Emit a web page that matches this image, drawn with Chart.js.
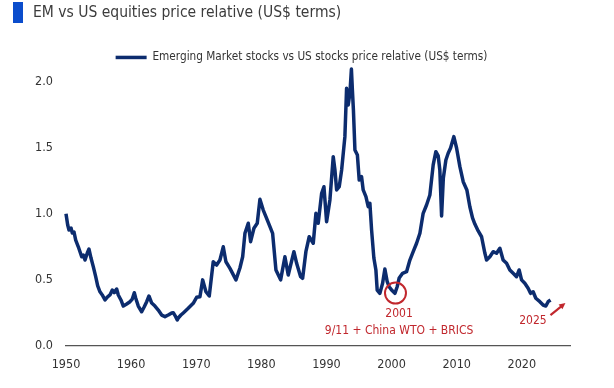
<!DOCTYPE html>
<html>
<head>
<meta charset="utf-8">
<script src="https://cdn.jsdelivr.net/npm/chart.js@4.4.1/dist/chart.umd.min.js"></script>
<style>
  html, body { margin: 0; padding: 0; background: #ffffff; }
  #wrap { width: 614px; height: 388px; position: relative; }
</style>
</head>
<body>
<div id="wrap"><canvas id="c" width="614" height="388"></canvas></div>
<script>
// ---- data ----
const years = [
  1950.00, 1950.26, 1950.46, 1950.77, 1950.97, 1951.23, 1951.49, 1951.89, 1952.41, 1952.66,
  1952.92, 1953.27, 1953.53, 1953.84, 1954.19, 1954.56, 1954.87, 1955.22, 1955.57, 1955.99,
  1956.34, 1956.75, 1957.11, 1957.41, 1957.78, 1958.03, 1958.44, 1958.80, 1959.32, 1959.83,
  1960.18, 1960.49, 1960.70, 1961.10, 1961.62, 1962.02, 1962.39, 1962.74, 1963.16, 1963.66,
  1964.17, 1964.69, 1965.20, 1965.70, 1966.23, 1966.47, 1966.84, 1967.09, 1967.24, 1967.65,
  1968.01, 1968.77, 1969.54, 1970.06, 1970.57, 1970.99, 1971.49, 1972.00, 1972.61, 1973.13,
  1973.64, 1974.15, 1974.56, 1975.18, 1976.10, 1976.71, 1977.13, 1977.48, 1977.99, 1978.35,
  1978.86, 1979.37, 1979.78, 1980.29, 1980.70, 1981.32, 1981.73, 1982.24, 1982.96, 1983.62,
  1984.13, 1985.00, 1985.42, 1986.03, 1986.34, 1986.84, 1987.35, 1987.97, 1988.38, 1988.73,
  1989.26, 1989.61, 1990.02, 1990.53, 1991.04, 1991.30, 1991.56, 1991.96, 1992.33, 1992.83,
  1993.09, 1993.34, 1993.60, 1993.83, 1993.98, 1994.14, 1994.37, 1994.75, 1995.03, 1995.39,
  1995.64, 1996.06, 1996.41, 1996.67, 1996.93, 1997.28, 1997.59, 1997.79, 1998.20, 1998.62,
  1998.97, 1999.33, 1999.63, 2000.00, 2000.51, 2000.86, 2001.17, 2001.69, 2002.30, 2002.81,
  2003.32, 2003.84, 2004.35, 2004.85, 2005.37, 2005.88, 2006.39, 2006.80, 2007.16, 2007.41,
  2007.68, 2007.95, 2008.34, 2008.69, 2009.06, 2009.56, 2009.98, 2010.49, 2011.00, 2011.56,
  2012.02, 2012.43, 2012.79, 2013.30, 2013.82, 2014.33, 2014.59, 2015.09, 2015.60, 2016.12,
  2016.63, 2017.13, 2017.66, 2018.16, 2018.67, 2019.19, 2019.59, 2019.96, 2020.46, 2020.97,
  2021.34, 2021.74, 2022.15, 2022.77, 2023.27, 2023.69, 2024.04, 2024.41
];
const emVsUs = [
  1.00, 0.915, 0.877, 0.892, 0.854, 0.862, 0.800, 0.750, 0.675, 0.688,
  0.650, 0.703, 0.733, 0.665, 0.600, 0.524, 0.454, 0.410, 0.386, 0.348,
  0.370, 0.386, 0.423, 0.403, 0.431, 0.386, 0.348, 0.302, 0.318, 0.335,
  0.355, 0.403, 0.363, 0.302, 0.259, 0.297, 0.335, 0.378, 0.325, 0.302,
  0.272, 0.234, 0.222, 0.234, 0.250, 0.252, 0.222, 0.197, 0.212, 0.234,
  0.250, 0.285, 0.323, 0.368, 0.373, 0.500, 0.410, 0.378, 0.637, 0.612,
  0.650, 0.750, 0.637, 0.587, 0.500, 0.590, 0.675, 0.852, 0.928, 0.789,
  0.890, 0.928, 1.109, 1.028, 0.978, 0.902, 0.852, 0.575, 0.500, 0.675,
  0.537, 0.713, 0.625, 0.524, 0.512, 0.713, 0.826, 0.777, 1.003, 0.928,
  1.155, 1.204, 0.940, 1.104, 1.431, 1.331, 1.180, 1.204, 1.331, 1.583,
  1.948, 1.822, 1.911, 2.094, 1.936, 1.784, 1.482, 1.444, 1.255, 1.280,
  1.180, 1.129, 1.053, 1.079, 0.877, 0.665, 0.575, 0.423, 0.398, 0.474,
  0.582, 0.486, 0.448, 0.423, 0.398, 0.448, 0.514, 0.550, 0.562, 0.650,
  0.713, 0.777, 0.852, 1.003, 1.066, 1.142, 1.369, 1.469, 1.437, 1.331,
  0.983, 1.270, 1.406, 1.457, 1.497, 1.583, 1.497, 1.356, 1.242, 1.180,
  1.053, 0.968, 0.922, 0.870, 0.826, 0.701, 0.650, 0.675, 0.713, 0.701,
  0.739, 0.650, 0.625, 0.575, 0.550, 0.524, 0.575, 0.500, 0.474, 0.436,
  0.398, 0.410, 0.361, 0.335, 0.310, 0.302, 0.335, 0.348
];
const xTickYears = [1950, 1960, 1970, 1980, 1990, 2000, 2010, 2020];
const yTickValues = [0.0, 0.5, 1.0, 1.5, 2.0];
const seriesLabel = 'Emerging Market stocks vs US stocks price relative (US$ terms)';
const chartTitle = 'EM vs US equities price relative (US$ terms)';
// annotation anchors in data units (year, value)
const noteCircle = { x: 2000.6, y: 0.40 };
const noteLines = [
  { text: '2001', x: 2001.15, y: 0.246 },
  { text: '9/11 + China WTO + BRICS', x: 2001.15, y: 0.117 },
  { text: '2025', x: 2021.7, y: 0.193 }
];
const noteArrow = { x0: 2024.4, y0: 0.234, x1: 2026.7, y1: 0.325 };

const FONT = "'DejaVu Sans Condensed', 'DejaVu Sans', sans-serif";
const NAVY = '#0C2C6E';
const RED = '#C1272D';

const points = years.map((yr, i) => ({ x: yr, y: emVsUs[i] }));

const decorPlugin = {
  id: 'decor',
  afterDraw(chart) {
    const ctx = chart.ctx;
    const tb = chart.titleBlock;
    ctx.save();
    // blue title marker
    ctx.fillStyle = '#0B4DCC';
    ctx.fillRect(tb.left - 20, 2, 10, 21);
    const xs = chart.scales.x, ys = chart.scales.y;
    // circle
    ctx.strokeStyle = RED;
    ctx.lineWidth = 2;
    ctx.beginPath();
    ctx.arc(xs.getPixelForValue(noteCircle.x), ys.getPixelForValue(noteCircle.y), 10.5, 0, Math.PI * 2);
    ctx.stroke();
    // texts
    ctx.fillStyle = RED;
    ctx.font = '12px ' + FONT;
    ctx.textAlign = 'center';
    ctx.textBaseline = 'middle';
    noteLines.forEach(n => {
      ctx.fillText(n.text, xs.getPixelForValue(n.x), ys.getPixelForValue(n.y));
    });
    // arrow
    const ax0 = xs.getPixelForValue(noteArrow.x0), ay0 = ys.getPixelForValue(noteArrow.y0);
    const ax1 = xs.getPixelForValue(noteArrow.x1), ay1 = ys.getPixelForValue(noteArrow.y1);
    const ang = Math.atan2(ay1 - ay0, ax1 - ax0);
    const hl = 7;
    ctx.lineWidth = 2.2;
    ctx.beginPath();
    ctx.moveTo(ax0, ay0);
    ctx.lineTo(ax1 - Math.cos(ang) * hl * 0.7, ay1 - Math.sin(ang) * hl * 0.7);
    ctx.stroke();
    ctx.beginPath();
    ctx.moveTo(ax1, ay1);
    ctx.lineTo(ax1 - hl * Math.cos(ang - 0.45), ay1 - hl * Math.sin(ang - 0.45));
    ctx.lineTo(ax1 - hl * Math.cos(ang + 0.45), ay1 - hl * Math.sin(ang + 0.45));
    ctx.closePath();
    ctx.fill();
    ctx.restore();
  }
};

new Chart(document.getElementById('c'), {
  type: 'line',
  data: {
    datasets: [{
      label: seriesLabel,
      data: points,
      borderColor: NAVY,
      backgroundColor: NAVY,
      borderWidth: 3.5,
      pointRadius: 0,
      tension: 0,
      borderJoinStyle: 'round',
      clip: 6
    }]
  },
  options: {
    responsive: false,
    animation: false,
    events: [],
    layout: { padding: { left: 33, right: 44, top: 0, bottom: 0 } },
    plugins: {
      title: {
        display: true,
        text: chartTitle,
        align: 'start',
        color: '#3c3c3c',
        font: { family: FONT, size: 15.5, weight: 'normal', lineHeight: 1.2 },
        padding: { top: 4, bottom: 24.4 }
      },
      legend: {
        display: true,
        position: 'top',
        align: 'center',
        maxHeight: 19,
        labels: {
          usePointStyle: true,
          pointStyle: 'line',
          pointStyleWidth: 31,
          color: '#333333',
          padding: 4.6,
          font: { family: FONT, size: 11.7 }
        }
      },
      tooltip: { enabled: false }
    },
    scales: {
      x: {
        type: 'linear',
        min: 1950,
        max: 2027.4,
        grid: { display: false, drawTicks: false },
        border: { display: true, color: '#555555', width: 1.2 },
        afterBuildTicks: s => { s.ticks = xTickYears.map(v => ({ value: v })); },
        afterFit: s => { s.height = 42; },
        ticks: {
          autoSkip: false,
          maxRotation: 0,
          padding: 11.5,
          color: '#333333',
          font: { family: FONT, size: 12.5 },
          callback: v => String(v)
        }
      },
      y: {
        type: 'linear',
        min: 0,
        max: 2.117,
        grid: { display: false, drawTicks: false },
        border: { display: false },
        afterBuildTicks: s => { s.ticks = yTickValues.map(v => ({ value: v })); },
        afterFit: s => { s.width = 33; },
        ticks: {
          padding: 13,
          color: '#333333',
          font: { family: FONT, size: 12.5 },
          callback: v => Number(v).toFixed(1)
        }
      }
    }
  },
  plugins: [decorPlugin]
});
</script>
</body>
</html>
